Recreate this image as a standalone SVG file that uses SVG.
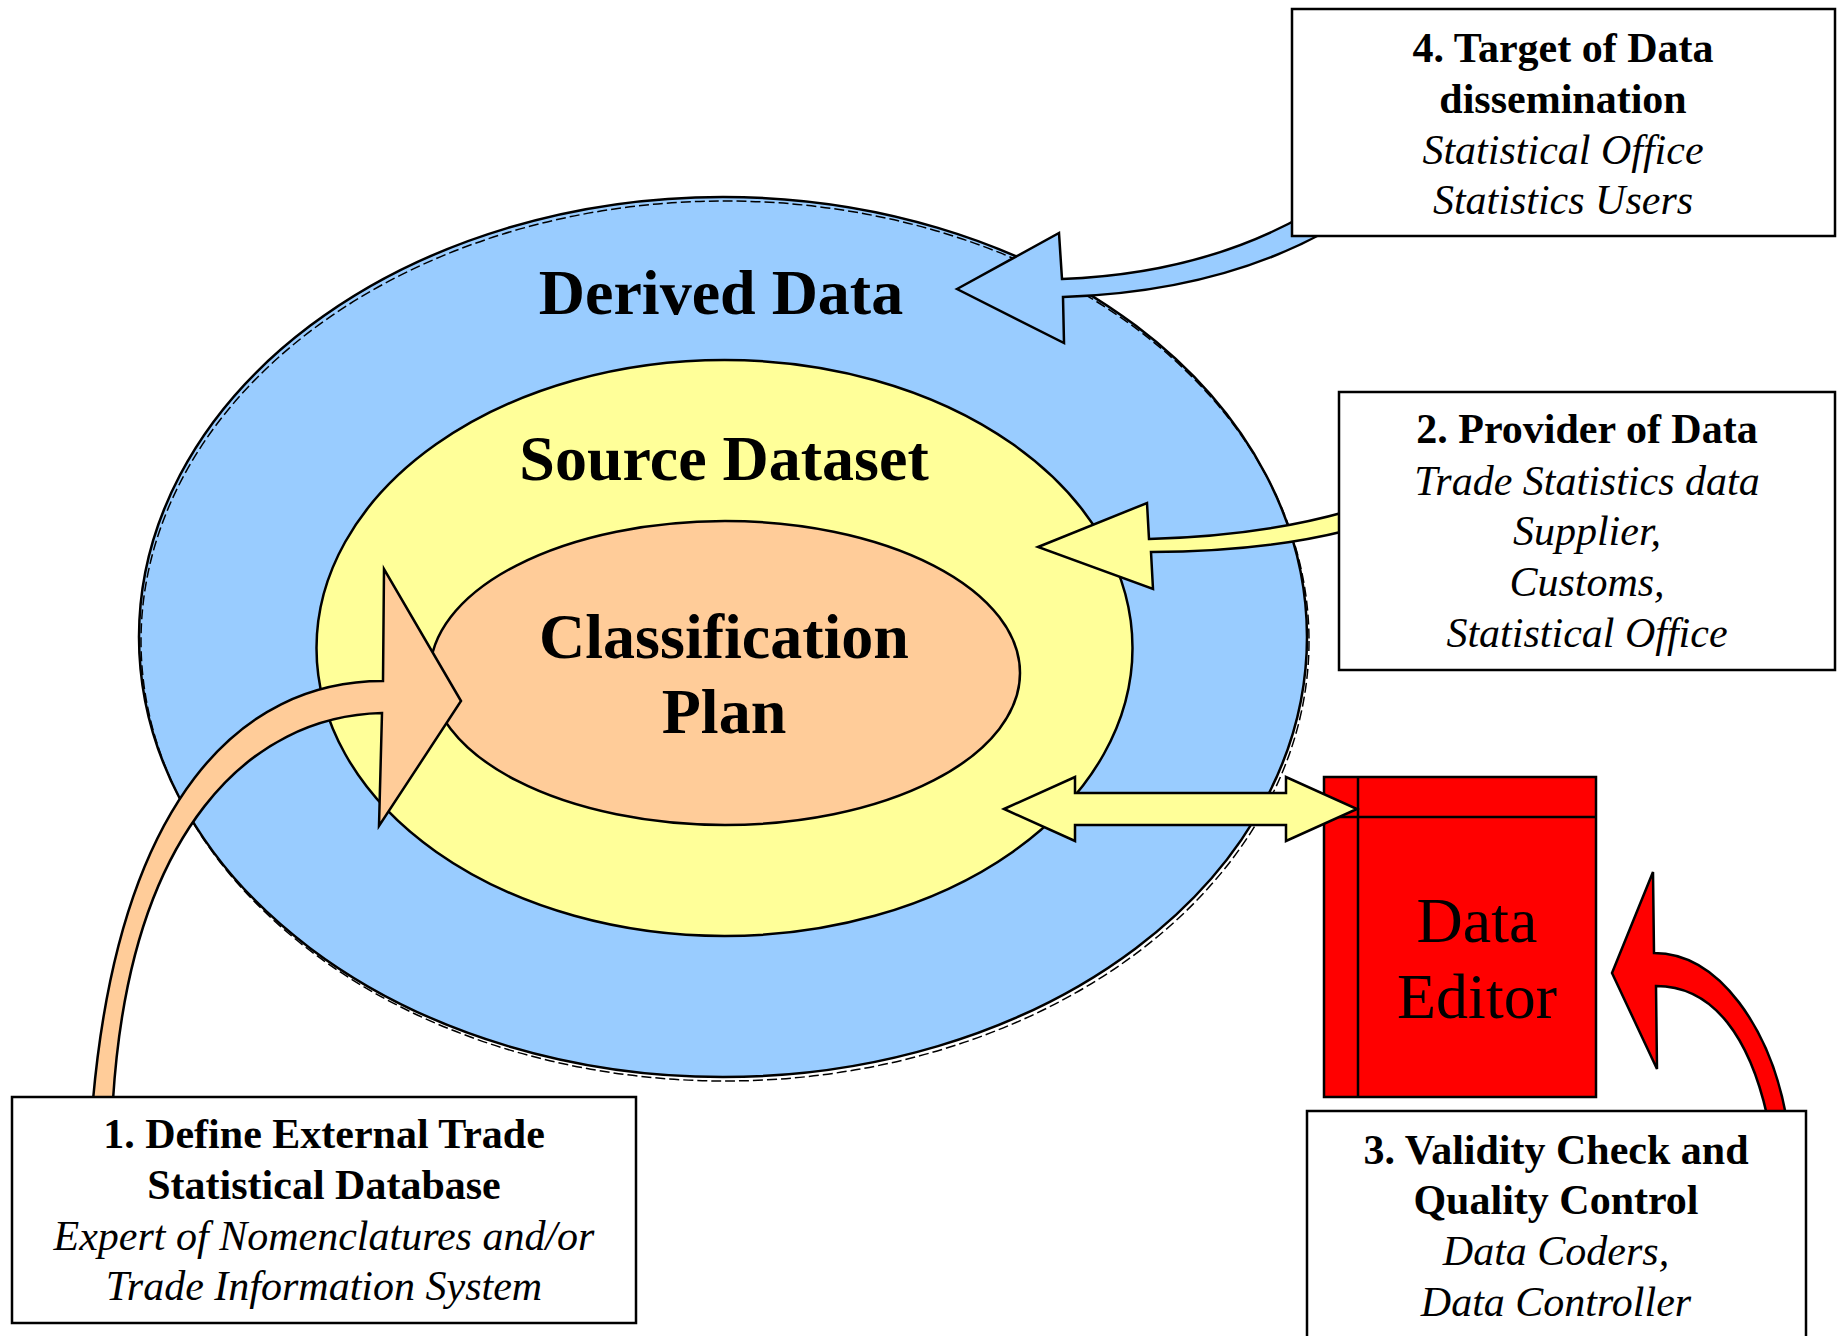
<svg xmlns="http://www.w3.org/2000/svg" width="1847" height="1336" viewBox="0 0 1847 1336">
<style>
.ol{stroke:#000;stroke-width:2.5;stroke-linejoin:miter}
.box{fill:#fff;stroke:#000;stroke-width:2.5}
.t{font-family:"Liberation Serif","Times New Roman",serif;text-anchor:middle;fill:#000}
.h{font-size:42px;font-weight:bold}
.i{font-size:42px;font-style:italic}
.big{font-size:64px;font-weight:bold}
</style>
<rect width="1847" height="1336" fill="#fff"/>
<g id="derived-data">
<ellipse cx="723" cy="637" rx="584" ry="440" fill="#99CCFF" class="ol" stroke-width="2"/>
<ellipse cx="725" cy="641" rx="584" ry="440" fill="none" stroke="#000" stroke-width="1.5" stroke-dasharray="10 4"/>
<text class="t big" x="721" y="314">Derived Data</text>
</g>
<g id="source-dataset">
<ellipse cx="724.5" cy="648" rx="408" ry="288" fill="#FFFF99" class="ol" stroke-width="2"/>
<text class="t big" x="724" y="480">Source Dataset</text>
</g>
<g id="classification-plan">
<ellipse cx="725" cy="673" rx="295" ry="152" fill="#FFCC99" class="ol" stroke-width="2"/>
<text class="t big" x="724" y="658">Classification</text>
<text class="t big" x="724" y="733">Plan</text>
</g>
<g id="data-editor">
<rect x="1324" y="777" width="272" height="320" fill="#FF0000" class="ol"/>
<line x1="1358" y1="777" x2="1358" y2="1097" class="ol"/>
<line x1="1324" y1="817" x2="1596" y2="817" class="ol"/>
<text class="t" x="1477" y="942" font-size="64">Data</text>
<text class="t" x="1477" y="1018" font-size="64">Editor</text>
</g>
<g id="connectors">
<path d="M957,289 L1059,233 L1062,279 Q1200,274 1305,215 L1325,232 Q1215,292 1063,297 L1064,343 Z" fill="#99CCFF" class="ol"/>
<path d="M1038,547 L1147,503 L1149,539 Q1260,536 1345,512 L1345,531 Q1260,552 1151,552 L1153,589 Z" fill="#FFFF99" class="ol"/>
<path d="M1004,809 L1075,777 L1075,793 L1286,793 L1286,777 L1357,809 L1286,841 L1286,825 L1075,825 L1075,841 Z" fill="#FFFF99" class="ol"/>
<path d="M461,701 L384,569 L383,681 C240,681 120,800 93,1100 L113,1100 C130,830 250,716 382,713 L379,826 Z" fill="#FFCC99" class="ol"/>
<path d="M1612,973 L1653,872 L1654,953 C1720,953 1770,1030 1786,1115 L1767,1115 C1750,1040 1715,986 1656,986 L1657,1069 Z" fill="#FF0000" class="ol"/>
</g>
<g id="box-target">
<rect x="1292" y="9" width="543" height="227" class="box"/>
<text class="t h" x="1563" y="62">4. Target of Data</text>
<text class="t h" x="1563" y="113">dissemination</text>
<text class="t i" x="1563" y="164">Statistical Office</text>
<text class="t i" x="1563" y="214">Statistics Users</text>
</g>
<g id="box-provider">
<rect x="1339" y="392" width="496" height="278" class="box"/>
<text class="t h" x="1587" y="443">2. Provider of Data</text>
<text class="t i" x="1587" y="495">Trade Statistics data</text>
<text class="t i" x="1587" y="545">Supplier,</text>
<text class="t i" x="1587" y="596">Customs,</text>
<text class="t i" x="1587" y="647">Statistical Office</text>
</g>
<g id="box-define">
<rect x="12" y="1097" width="624" height="226" class="box"/>
<text class="t h" x="324" y="1148">1. Define External Trade</text>
<text class="t h" x="324" y="1199">Statistical Database</text>
<text class="t i" x="324" y="1250">Expert of Nomenclatures and/or</text>
<text class="t i" x="324" y="1300">Trade Information System</text>
</g>
<g id="box-validity">
<rect x="1307" y="1111" width="499" height="240" class="box"/>
<text class="t h" x="1556" y="1164">3. Validity Check and</text>
<text class="t h" x="1556" y="1214">Quality Control</text>
<text class="t i" x="1556" y="1265">Data Coders,</text>
<text class="t i" x="1556" y="1316">Data Controller</text>
</g>
</svg>
